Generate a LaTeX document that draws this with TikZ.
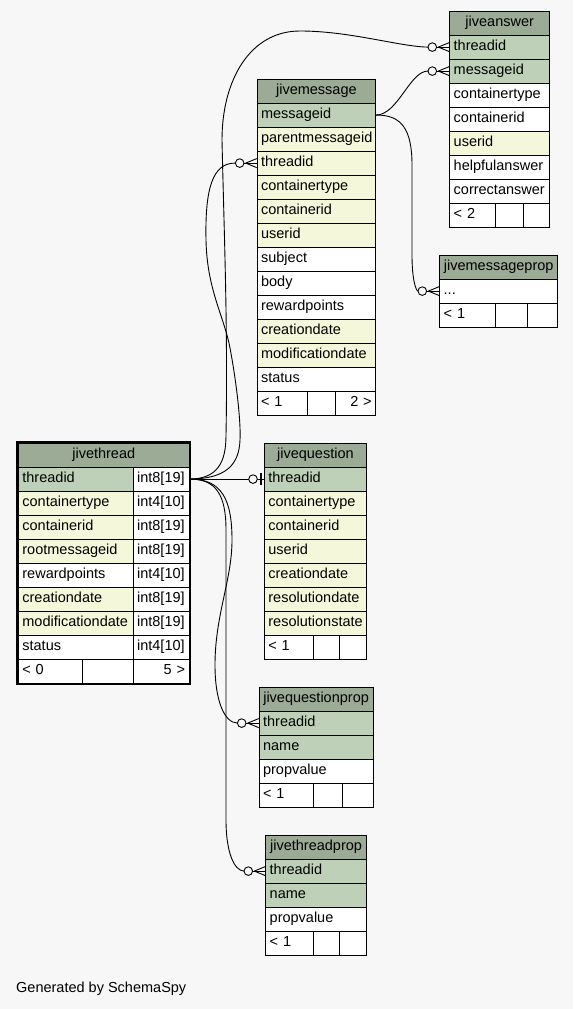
\documentclass[tikz,border=0pt]{standalone}
\usepackage{fontspec}
\setmainfont{Liberation Sans}
\definecolor{hdr}{HTML}{9BAB96}
\definecolor{pk}{HTML}{BED1B8}
\definecolor{ix}{HTML}{F4F7DA}
\definecolor{bg}{HTML}{F7F7F7}
\newcommand\fs{\fontsize{14.5pt}{16pt}\selectfont}
\newcommand\dotstext{...}
\tikzset{
  cell/.style={draw=black, line width=0.8pt, anchor=north west, inner xsep=4pt, inner ysep=0pt,
    minimum height=24pt, text height=10pt, text depth=3pt, font=\fs},
  conn/.style={draw=black, line width=0.9pt},
}
\newcommand\cellnode[7]{%
  \pgfmathsetmacro\cw{#4-8}%
  \node[cell, fill=#5, minimum width=#4pt, text width=\cw pt, align=#6] (#1) at (#2,#3) {#7};}
\newcommand\tablebody[6]{%
  \cellnode{#1-hdr}{#2}{#3}{#4}{hdr}{center}{#5}%
  \foreach \nm/\fc/\tx [count=\i] in {#6}{%
    \pgfmathsetmacro\yy{#3+24*\i}%
    \cellnode{#1-\nm}{#2}{\yy}{#4}{\fc}{left}{\tx}}}
\newcommand\tablefoot[8]{%
  \cellnode{#1-f1}{#2}{#3}{#4}{white}{left}{#7}%
  \pgfmathsetmacro\xb{#2+#4}%
  \cellnode{#1-f2}{\xb}{#3}{#5}{white}{left}{}%
  \pgfmathsetmacro\xc{#2+#4+#5}%
  \cellnode{#1-f3}{\xc}{#3}{#6}{white}{right}{#8}}
\newcommand\crowfoot[1]{%
  \draw[conn] ([xshift=-12.7pt]#1.west) -- (#1.west);
  \draw[conn] ([xshift=-11pt]#1.west) -- ([yshift=4.5pt]#1.west);
  \draw[conn] ([xshift=-11pt]#1.west) -- ([yshift=-4.5pt]#1.west);
  \draw[conn, fill=bg] ([xshift=-17pt]#1.west) circle (4.3pt);}
\begin{document}
\begin{tikzpicture}[x=1pt,y=-1pt]
\fill[bg] (0,0) rectangle (573,1009);
\useasboundingbox (0,0) rectangle (573,1009);

% jiveanswer
\tablebody{ans}{449.3}{10.7}{100}{jiveanswer}{threadid/pk/threadid, messageid/pk/messageid, containertype/white/containertype, containerid/white/containerid, userid/ix/userid, helpfulanswer/white/helpfulanswer, correctanswer/white/correctanswer}
\tablefoot{ans}{449.3}{202.7}{46}{27.4}{26.6}{< 2}{}

% jivemessage
\tablebody{msg}{256.7}{78.7}{118.6}{jivemessage}{messageid/pk/messageid, parentmessageid/ix/parentmessageid, threadid/ix/threadid, containertype/ix/containertype, containerid/ix/containerid, userid/ix/userid, subject/white/subject, body/white/body, rewardpoints/white/rewardpoints, creationdate/ix/creationdate, modificationdate/ix/modificationdate, status/white/status}
\tablefoot{msg}{256.7}{390.7}{50.6}{28}{40}{< 1}{2 >}

% jivemessageprop
\tablebody{mp}{439.3}{254.7}{118}{jivemessageprop}{dots/white/\dotstext}
\tablefoot{mp}{439.3}{302.7}{56}{31.4}{30.6}{< 1}{}

% jivequestion
\tablebody{jq}{264}{442.7}{102}{jivequestion}{threadid/pk/threadid, containertype/ix/containertype, containerid/ix/containerid, userid/ix/userid, creationdate/ix/creationdate, resolutiondate/ix/resolutiondate, resolutionstate/ix/resolutionstate}
\tablefoot{jq}{264}{634.7}{48.7}{26.6}{26.7}{< 1}{}

% jivequestionprop
\tablebody{jqp}{258.7}{686.7}{114}{jivequestionprop}{threadid/pk/threadid, name/pk/name, propvalue/white/propvalue}
\tablefoot{jqp}{258.7}{782.7}{54}{29.3}{30.7}{< 1}{}

% jivethreadprop
\tablebody{jtp}{265.3}{834.7}{100.7}{jivethreadprop}{threadid/pk/threadid, name/pk/name, propvalue/white/propvalue}
\tablefoot{jtp}{265.3}{930.7}{47.4}{26.6}{26.7}{< 1}{}

% jivethread
\cellnode{jt-hdr}{18}{442.7}{170.7}{hdr}{center}{jivethread}
\foreach \nm/\fc/\ty [count=\i] in {threadid/pk/int8[19], containertype/ix/int4[10], containerid/ix/int8[19], rootmessageid/ix/int8[19], rewardpoints/white/int4[10], creationdate/ix/int8[19], modificationdate/ix/int8[19], status/white/int4[10]}{%
  \pgfmathsetmacro\yy{442.7+24*\i}%
  \cellnode{jt-\nm}{18}{\yy}{114.7}{\fc}{left}{\nm}%
  \cellnode{jt-\nm-t}{132.7}{\yy}{56}{white}{left}{\ty}}
\tablefoot{jt}{18}{658.7}{63.7}{51}{56}{< 0}{5 >}
\draw[line width=2.7pt] ([shift={(-0.6pt,0.6pt)}]jt-hdr.north west) rectangle ([shift={(0.6pt,-0.6pt)}]jt-f3.south east);

% connectors
\draw[conn] (jt-threadid-t.east) .. controls (218,478.7) and (226,462) .. (226,435)
  .. controls (228,330) and (224,230) .. (222,140)
  .. controls (222,80) and (250,31) .. (300,31)
  .. controls (350,31) and (400,46.7) .. ([xshift=-21.3pt]ans-threadid.west);
\draw[conn] (jt-threadid-t.east) .. controls (226,478.7) and (239,465) .. (240,440)
  .. controls (241,420) and (236,380) .. (230,348)
  .. controls (224,316) and (207,290) .. (206,240)
  .. controls (205,190) and (212,162.7) .. ([xshift=-21.3pt]msg-threadid.west);
\draw[conn] (jt-threadid-t.east) .. controls (222,478.7) and (232,500) .. (232,540)
  .. controls (232,580) and (215,615) .. (215,665)
  .. controls (215,700) and (224,722.7) .. ([xshift=-21.3pt]jqp-threadid.west);
\draw[conn] (jt-threadid-t.east) .. controls (216,478.7) and (226,495) .. (226,530)
  -- (226,820) .. controls (226,852) and (234,870.7) .. ([xshift=-21.3pt]jtp-threadid.west);
\draw[conn] (jt-threadid-t.east) -- ([xshift=-15.3pt]jq-threadid.west);
\draw[conn] ([xshift=-6.7pt]jq-threadid.west) -- (jq-threadid.west);
\draw[conn, fill=bg] ([xshift=-11pt]jq-threadid.west) circle (4.3pt);
\draw[line width=2.2pt] ([xshift=-3pt,yshift=6pt]jq-threadid.west) -- ([xshift=-3pt,yshift=-6pt]jq-threadid.west);
\draw[conn] (msg-messageid.east) .. controls (398,114.7) and (410,70.7) .. ([xshift=-21.3pt]ans-messageid.west);
\draw[conn] (msg-messageid.east) .. controls (402,114.7) and (412,130) .. (412,165)
  -- (412,255) .. controls (412,280) and (416,290.7) .. ([xshift=-21.3pt]mp-dots.west);

\crowfoot{ans-threadid}
\crowfoot{ans-messageid}
\crowfoot{msg-threadid}
\crowfoot{mp-dots}
\crowfoot{jqp-threadid}
\crowfoot{jtp-threadid}

\node[anchor=west, inner sep=0pt, font=\fs] (gen) at (16,989) {Generated by SchemaSpy};
\end{tikzpicture}
\end{document}
